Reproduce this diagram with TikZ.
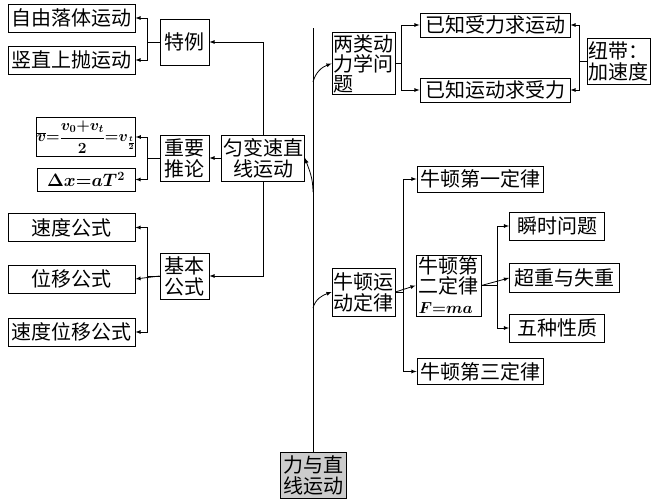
\RequirePackage{fix-cm}
\documentclass[tikz,border=0pt]{standalone}
\usepackage{fontspec}
\usepackage{amsmath}
\setmainfont{Noto Sans CJK SC}
\begin{document}
\begin{tikzpicture}[
        x=1pt, y=-1pt,
        -latex,
        line width=0.8pt,
        font=\fontsize{20}{21}\selectfont,
        box/.style ={draw, inner sep=1.5pt, align=center, minimum height=28pt},
        wide/.style ={box, minimum width=127pt},
        pair/.style ={box, minimum width=49pt, minimum height=46pt},
        law/.style ={box, minimum width=126pt, minimum height=26pt},
        known/.style ={box, minimum width=150pt, minimum height=24pt},
        leaf/.style ={box, minimum width=95pt},
    ]
    \useasboundingbox (0,0) rectangle (656,500);

    % left part
    \node[wide] (ziyou) at (71.5,18) {自由落体运动};
    \node[wide] (shuzhi) at (71.5,60) {竖直上抛运动};
    \node[pair] (teli) at (184.5,42) {特例};
    \node[pair] (tuilun) at (184.5,158) {重要\\推论};
    \node[pair] (jiben) at (184.5,276) {基本\\公式};
    \node[box, minimum width=80pt, minimum height=46pt] (yunbian) at (263,158) {匀变速直\\线运动};
    \node[box, minimum width=98pt, minimum height=39pt, inner sep=0pt, font=\fontsize{15.5}{17}\selectfont] (pingjun) at (86,137)
        {$\boldsymbol{\overline{v}{=}\dfrac{v_0{+}v_t}{2}{=}v_{\frac{t}{2}}}$};
    \node[box, minimum width=98pt, minimum height=23pt, font=\fontsize{18}{20}\selectfont] (zhucha) at (86,179.5)
        {$\boldsymbol{\Delta x{=}aT^2}$};
    \node[wide] (sudu) at (71.5,227.5) {速度公式};
    \node[wide] (weiyi) at (71.5,279) {位移公式};
    \node[wide] (suwei) at (71.5,332) {速度位移公式};

    % root
    \node[box, fill=gray!40, minimum width=66pt, minimum height=46pt] (root) at (313,475) {力与直\\线运动};
    \coordinate (top) at (313,28);
    \coordinate (k1) at (313,82);
    \coordinate (k2) at (313,192);
    \coordinate (k3) at (313,308);

    % right part
    \node[box, minimum width=62pt, minimum height=61pt, align=left, font=\fontsize{20}{20}\selectfont] (lianglei) at (363.5,63.5) {两类动\\力学问\\题};
    \node[known] (shouli) at (495,25) {已知受力求运动};
    \node[known] (yundong) at (495,90) {已知运动求受力};
    \node[box, minimum width=63pt, minimum height=46pt] (niudai) at (618.5,61) {纽带：\\加速度};
    \node[box, minimum width=62pt, minimum height=48pt] (niudun) at (363.5,292) {牛顿运\\动定律};
    \node[law] (diyi) at (480,179) {牛顿第一定律};
    \node[box, minimum width=65pt, minimum height=61pt, align=left, font=\fontsize{20}{20}\selectfont] (dier) at (448.5,285.5)
        {牛顿第\\二定律\\\fontsize{16}{17}\selectfont$\boldsymbol{F{=}ma}$};
    \node[law] (disan) at (480,371.5) {牛顿第三定律};
    \node[leaf] (shunshi) at (557,226) {瞬时问题};
    \node[box, minimum width=110pt, minimum height=29pt] (chaozhong) at (564.5,278) {超重与失重};
    \node[leaf] (wuzhong) at (557,328) {五种性质};

    \draw[-] (root.north) -- (top);
    \draw (k1) to[out=75,in=200] (lianglei.west);
    \draw (k2) to[out=90,in=-70] (yunbian.east);
    \draw (k3) to[out=75,in=200] (niudun.west);

    \draw (yunbian.north) |- (teli.east);
    \draw (yunbian.west) -- (tuilun.east);
    \draw (yunbian.south) |- (jiben.east);
    \draw (teli.west) -- ++(-12,0) |- (ziyou.east);
    \draw (teli.west) -- ++(-12,0) |- (shuzhi.east);
    \draw (tuilun.west) -- ++(-12,0) |- (pingjun.east);
    \draw (tuilun.west) -- ++(-12,0) |- (zhucha.east);
    \draw (jiben.west) -- ++(-12,0) |- (sudu.east);
    \draw (jiben.west) -- (weiyi.east);
    \draw (jiben.west) -- ++(-12,0) |- (suwei.east);

    \draw (lianglei.east) -- ++(6,0) |- (shouli.west);
    \draw (lianglei.east) -- ++(6,0) |- (yundong.west);
    \draw (niudai.west) -- ++(-7,0) |- (shouli.east);
    \draw (niudai.west) -- ++(-7,0) |- (yundong.east);
    \draw (niudun.east) -- (dier.west);
    \draw (niudun.east) -- ++(8,0) |- (diyi.west);
    \draw (niudun.east) -- ++(8,0) |- (disan.west);
    \draw (dier.east) -- ++(16,0) |- (shunshi.west);
    \draw (dier.east) -- (chaozhong.west);
    \draw (dier.east) -- ++(16,0) |- (wuzhong.west);
\end{tikzpicture}
\end{document}
